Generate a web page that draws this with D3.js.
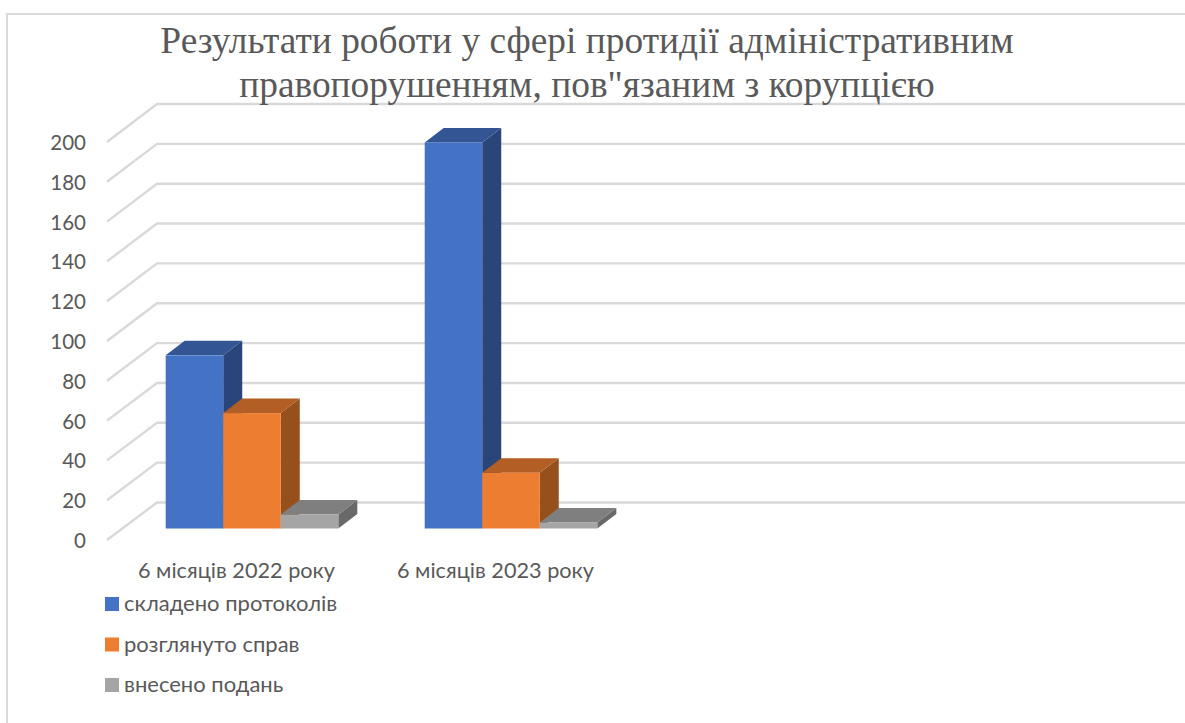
<!DOCTYPE html>
<html lang="uk">
<head>
<meta charset="utf-8">
<title>Результати роботи</title>
<script src="https://cdn.jsdelivr.net/npm/d3@7/dist/d3.min.js"></script>
<style type="text/css">
  html, body { margin: 0; padding: 0; background: #fff; overflow: hidden; }
  svg { display: block; }
  text { fill: #595959; font-family: Lato, "Open Sans", sans-serif; }
  .axis text { font-size: 20.5px; }
  .axis.cat text { font-size: 21.7px; }
  .axis path, .axis line { display: none; }
  .title { font-family: "Liberation Serif", serif; font-size: 37.4px; }
</style>
</head>
<body>
<script type="text/javascript">
const titleLines = ["Результати роботи у сфері протидії адміністративним", "правопорушенням, пов\"язаним з корупцією"];
const categories = ["6 місяців 2022 року", "6 місяців 2023 року"];
const seriesNames = ["складено протоколів", "розглянуто справ", "внесено подань"];
const protocols = [87, 194];
const cases = [58, 28];
const submissions = [7, 3];
const seriesValues = [protocols, cases, submissions];
const yTicks = [0, 20, 40, 60, 80, 100, 120, 140, 160, 180, 200];
// slots on the category axis, the chart keeps two empty ones on the right
const slots = [0, 1, 2, 3];

const frontColors = ["#4472C4", "#ED7D31", "#A5A5A5"];
const topColors = ["#335593", "#B25E25", "#7F7F7F"];
const sideColors = ["#29457A", "#95501C", "#696969"];

const w = 1185;
const h = 723;
// 3d offsets
const wallDx = 50, wallDy = 37.5;
const barDx = 19, barDy = 14.5;

const svg = d3.select("body").append("svg").attr("width", w).attr("height", h);

const yFront = d3.scaleLinear().domain([0, 200]).range([540, 142]);
const yBack = d3.scaleLinear().domain([0, 200]).range([502.5, 104]);
const yBar = d3.scaleLinear().domain([0, 200]).range([528.5, 130.5]);
const x0 = d3.scaleBand().domain(slots).range([107, 1143]);
const x1 = d3.scaleBand().domain(d3.range(seriesNames.length)).range([58.7, 231.3]);

// chart frame, runs off the right and bottom of the picture
svg.append("path")
   .attr("d", `M${w + 2},14H7V${h + 2}`)
   .attr("fill", "none")
   .attr("stroke", "#d9d9d9")
   .attr("stroke-width", 2);

// gridlines
const grid = svg.append("g").attr("fill", "none").attr("stroke", "#d9d9d9").attr("stroke-width", 2.4);
grid.selectAll("path")
    .data(yTicks)
    .enter()
    .append("path")
    .attr("d", t => `M107,${yFront(t)}L${107 + wallDx},${yBack(t)}H${w}`);

// bars, series by series so the later ones cover the sides of the earlier
seriesValues.forEach(function(values, s) {
  const g = svg.append("g");
  values.forEach(function(v, c) {
    const left = x0(c) + x1(s);
    const right = left + x1.bandwidth();
    const top = yBar(v);
    const base = yBar(0);
    g.append("path")
     .attr("fill", sideColors[s])
     .attr("d", `M${right},${top}L${right + barDx},${top - barDy}V${base - barDy}L${right},${base}Z`);
    g.append("path")
     .attr("fill", topColors[s])
     .attr("d", `M${left},${top}L${left + barDx},${top - barDy}H${right + barDx}L${right},${top}Z`);
    g.append("rect")
     .attr("x", left)
     .attr("y", top)
     .attr("width", x1.bandwidth())
     .attr("height", base - top)
     .attr("fill", frontColors[s]);
  });
});

// axes
svg.append("g")
   .attr("class", "axis")
   .attr("transform", "translate(92,1)")
   .call(d3.axisLeft(yFront).tickValues(yTicks).tickSize(0).tickPadding(6));

svg.append("g")
   .attr("class", "axis cat")
   .attr("transform", "translate(0,563)")
   .call(d3.axisBottom(x0).tickSize(0).tickPadding(0).tickFormat(i => categories[i] || ""));

// title
svg.selectAll(".title")
   .data(titleLines)
   .enter()
   .append("text")
   .attr("class", "title")
   .attr("x", 587)
   .attr("y", (d, i) => 53 + i * 44)
   .attr("text-anchor", "middle")
   .text(d => d);

// legend
const legendY = d3.scalePoint().domain(seriesNames).range([604, 685]);
const legend = svg.selectAll(".legend")
   .data(seriesNames)
   .enter()
   .append("g")
   .attr("class", "legend")
   .attr("transform", d => `translate(105,${legendY(d)})`);
legend.append("rect")
   .attr("y", -7)
   .attr("width", 14)
   .attr("height", 14)
   .attr("fill", (d, i) => frontColors[i]);
legend.append("text")
   .attr("x", 19)
   .attr("y", 7)
   .style("font-size", "22px")
   .text(d => d);
</script>
</body>
</html>
